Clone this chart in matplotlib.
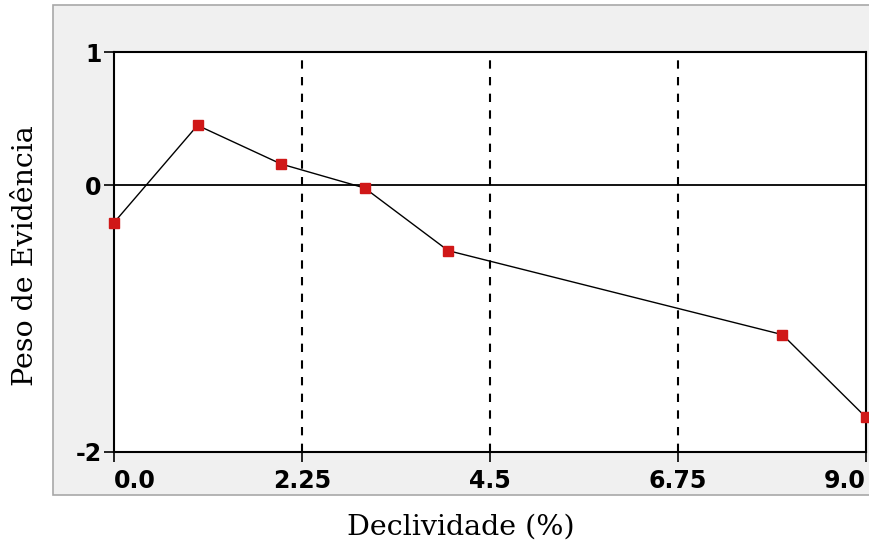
import matplotlib
matplotlib.use("Agg")
import matplotlib.pyplot as plt
from matplotlib.patches import Rectangle

# data
declividade = [0.0, 1.0, 2.0, 3.0, 4.0, 8.0, 9.0]
peso = [-0.28, 0.45, 0.16, -0.02, -0.49, -1.12, -1.74]

x_ticks = [0.0, 2.25, 4.5, 6.75, 9.0]
x_labels = ["0.0", "2.25", "4.5", "6.75", "9.0"]
y_ticks = [1, 0, -2]
y_labels = ["1", "0", "-2"]

fig = plt.figure(figsize=(8.7, 5.55), dpi=100)
fig.patch.set_facecolor("white")

# grey panel behind the plot
panel = Rectangle((0.061, 0.108), 0.95, 0.883, transform=fig.transFigure,
                  facecolor="#f0f0f0", edgecolor="#a8a8a8", lw=1.2, zorder=-10)
fig.patches.append(panel)

ax = fig.add_axes([0.131, 0.1856, 0.8644, 0.7207])
ax.set_facecolor("white")
ax.set_xlim(0, 9.0)
ax.set_ylim(-2, 1)

for xv in x_ticks[1:-1]:
    ax.axvline(xv, color="black", ls=(0, (4, 4)), lw=1.5, zorder=1)
ax.axhline(0, color="black", lw=1.3, zorder=1)

ax.plot(declividade, peso, color="black", lw=1, zorder=2)
ax.plot(declividade, peso, ls="none", marker="s", ms=7, color="#d01818",
        mec="#d01818", zorder=3, clip_on=False)

for s in ax.spines.values():
    s.set_linewidth(1.5)
    s.set_color("black")

ax.set_xticks(x_ticks)
ax.set_xticklabels(x_labels)
ax.set_yticks(y_ticks)
ax.set_yticklabels(y_labels)
ax.tick_params(axis="both", direction="out", length=7, width=1.2, pad=2,
               labelsize=17, colors="black")
ax.tick_params(axis="x", length=7, pad=5)
for lab in ax.get_xticklabels() + ax.get_yticklabels():
    lab.set_fontweight("bold")
    lab.set_family("DejaVu Sans")
xl = ax.get_xticklabels()
xl[0].set_ha("left")
xl[-1].set_ha("right")

ax.set_xlabel("Declividade (%)", family="DejaVu Serif", fontsize=20.5)
ax.set_ylabel("Peso de Evidência", family="DejaVu Serif", fontsize=20.5)
ax.xaxis.set_label_coords(0.461, -0.155)
ax.yaxis.set_label_coords(-0.1, 0.49)

fig.savefig("out.png", dpi=100)
